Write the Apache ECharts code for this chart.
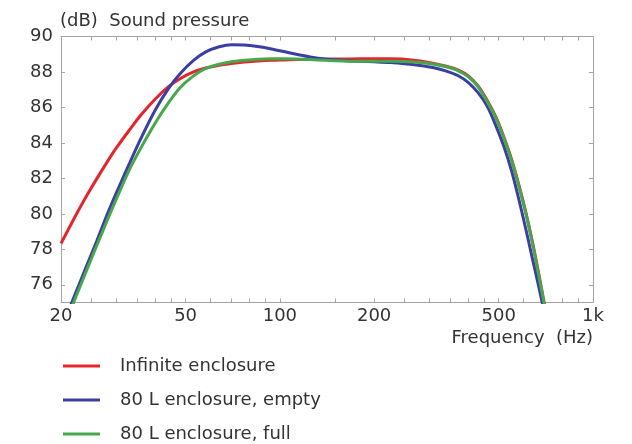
<!DOCTYPE html>
<html><head><meta charset="utf-8">
<script src="https://cdn.jsdelivr.net/npm/echarts@6/dist/echarts.min.js"></script>
<style>html,body{margin:0;padding:0;background:#fff}#c{width:632px;height:444px}</style>
</head><body><div id="c"></div>
<script>
const seriesNames = ['Infinite enclosure', '80 L enclosure, empty', '80 L enclosure, full'];
const seriesColors = ['#e4262c', '#3a3ea6', '#46a84a'];

// frequency grid (Hz), shared by all three curves
const freqHz = [20, 22, 24, 26, 28, 30, 33, 36, 40, 44, 48, 53, 58, 64, 70, 77, 85, 94, 103, 113, 125, 140, 160, 180, 200, 225, 250, 280, 310, 340, 370, 400, 430, 460, 490, 520, 550, 580, 610, 640, 670, 700, 730];

const dbInfinite = [78.33, 79.72, 80.93, 81.97, 82.89, 83.7, 84.7, 85.57, 86.48, 87.16, 87.62, 88.0, 88.22, 88.38, 88.48, 88.56, 88.62, 88.66, 88.68, 88.7, 88.71, 88.72, 88.73, 88.74, 88.74, 88.74, 88.72, 88.62, 88.48, 88.32, 88.12, 87.78, 87.2, 86.38, 85.45, 84.3, 83.05, 81.62, 80.1, 78.45, 76.68, 74.9, 73.2];

const dbEmpty = [73.5, 75.3, 76.95, 78.45, 79.9, 81.15, 82.8, 84.25, 85.85, 87.05, 87.9, 88.65, 89.13, 89.42, 89.54, 89.52, 89.43, 89.3, 89.15, 89.0, 88.85, 88.73, 88.64, 88.6, 88.57, 88.53, 88.47, 88.37, 88.24, 88.05, 87.8, 87.4, 86.82, 86.05, 84.95, 83.77, 82.4, 80.8, 79.15, 77.5, 75.95, 74.4, 72.9];

const dbFull = [73.2, 75.04, 76.7, 78.2, 79.57, 80.81, 82.45, 83.72, 85.12, 86.24, 87.11, 87.78, 88.2, 88.44, 88.58, 88.66, 88.72, 88.74, 88.74, 88.73, 88.7, 88.66, 88.62, 88.6, 88.6, 88.6, 88.59, 88.54, 88.44, 88.29, 88.08, 87.73, 87.15, 86.3, 85.38, 84.24, 82.98, 81.55, 80.04, 78.37, 76.59, 74.82, 73.1];

const xLabelValues = [20, 50, 100, 200, 500, 1000];
const xTickValues = [20, 25, 30, 35, 40, 45, 50, 60, 70, 80, 90, 100, 150, 200, 250, 300, 350, 400, 450, 500, 600, 700, 800, 900, 1000];
const yLabelValues = [76, 78, 80, 82, 84, 86, 88, 90];
const yTickValues = [76, 78, 80, 82, 84, 86, 88];

const zip = (f, v) => f.map((x, i) => [x, v[i]]);
const seriesData = [zip(freqHz, dbInfinite), zip(freqHz, dbEmpty), zip(freqHz, dbFull)];

const FONT = 'DejaVu Sans';
const TXT = '#333';
const FRAME = '#a3a3a3';

function xAxisDef(pos, showLabel) {
  return {
    type: 'log', logBase: 10, min: 20, max: 1000, position: pos,
    axisLine: {show: true, lineStyle: {color: FRAME, width: 1}},
    axisTick: {show: true, inside: true, length: 4, customValues: xTickValues, lineStyle: {color: FRAME}},
    minorTick: {show: false},
    splitLine: {show: false},
    axisLabel: {show: showLabel, customValues: xLabelValues, margin: 5,
      fontFamily: FONT, fontSize: 18, color: TXT,
      formatter: v => (v >= 1000 ? (v / 1000) + 'k' : String(v))},
    name: showLabel ? 'Frequency  (Hz)' : '',
    nameLocation: 'end', nameGap: 0,
    nameTextStyle: {fontFamily: FONT, fontSize: 18, color: TXT, align: 'right', verticalAlign: 'top', padding: [27, 0, 0, 0]}
  };
}
function yAxisDef(pos, showLabel) {
  return {
    type: 'value', min: 75, max: 90, position: pos,
    axisLine: {show: true, lineStyle: {color: FRAME, width: 1}},
    axisTick: {show: true, inside: true, length: 4, customValues: yTickValues, lineStyle: {color: FRAME}},
    splitLine: {show: false},
    axisLabel: {show: showLabel, customValues: yLabelValues, margin: 8,
      fontFamily: FONT, fontSize: 18, color: TXT},
    name: showLabel ? '(dB)  Sound pressure' : '',
    nameLocation: 'end', nameGap: 15,
    nameTextStyle: {fontFamily: FONT, fontSize: 18, color: TXT, align: 'left', verticalAlign: 'middle', padding: [0, 0, 0, -1]}
  };
}

const chart = echarts.init(document.getElementById('c'), null, {renderer: 'canvas'});
chart.setOption({
  animation: false,
  backgroundColor: '#fff',
  grid: {left: 61, top: 36.5, width: 532, height: 266, containLabel: false},
  xAxis: [xAxisDef('bottom', true), xAxisDef('top', false)],
  yAxis: [yAxisDef('left', true), yAxisDef('right', false)],
  legend: {
    orient: 'vertical', left: 63, top: 357, height: 86, padding: 0, itemGap: 16,
    icon: 'rect', itemWidth: 37, itemHeight: 3,
    textStyle: {fontFamily: FONT, fontSize: 18, color: TXT, lineHeight: 18, padding: [0, 0, 0, 15]},
    data: seriesNames
  },
  series: seriesNames.map((n, i) => ({
    name: n, type: 'line', xAxisIndex: 0, yAxisIndex: 0,
    data: seriesData[i], smooth: 0.3, showSymbol: false, symbol: 'none', clip: true,
    lineStyle: {color: seriesColors[i], width: 3}, itemStyle: {color: seriesColors[i]},
    z: [2, 3, 4][i]
  }))
});
</script></body></html>
